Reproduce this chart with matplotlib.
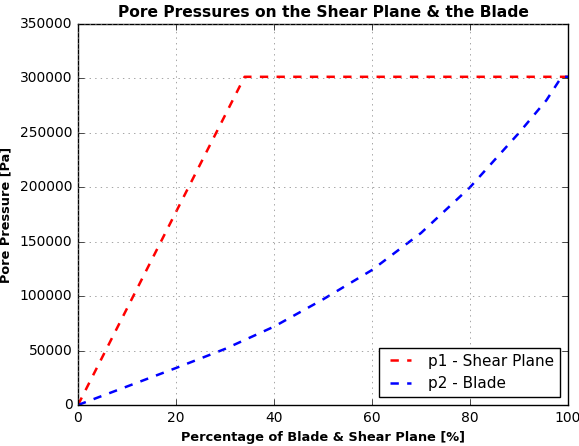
import matplotlib
matplotlib.use('Agg')
import matplotlib.pyplot as plt

# values
x_shear = [0, 34, 100]
p1_shear = [0, 301500, 301500]

x_blade = [0, 10, 20, 30, 40, 50, 60, 70, 80, 90, 95.6, 98.7, 100]
p2_blade = [0, 17000, 34000, 51500, 72000, 97000, 124000, 158000, 200000,
            250000, 280000, 301500, 301500]

plt.style.use('classic')
fig = plt.figure(figsize=(5.79, 4.46), dpi=100, facecolor='white')
ax = fig.add_axes([78 / 579, 41 / 446, 490 / 579, 381 / 446])

ax.plot(x_shear, p1_shear, 'r--', lw=1.8, label='p1 - Shear Plane')
ax.plot(x_blade, p2_blade, 'b--', lw=1.8, label='p2 - Blade')

ax.set_xlim(0, 100)
ax.set_ylim(0, 350000)
ax.ticklabel_format(useOffset=False, style='plain')
ax.grid(True, color='gray', linestyle=':')
ax.tick_params(labelsize=10)

ax.set_title('Pore Pressures on the Shear Plane & the Blade', fontsize=11.2, fontweight='bold')
ax.set_xlabel('Percentage of Blade & Shear Plane [%]', fontsize=9.3, fontweight='bold')
ax.set_ylabel('Pore Pressure [Pa]', fontsize=9.3, fontweight='bold')
ax.legend(loc='lower right', fontsize=11)

fig.savefig('out.png', dpi=100, facecolor='white')
